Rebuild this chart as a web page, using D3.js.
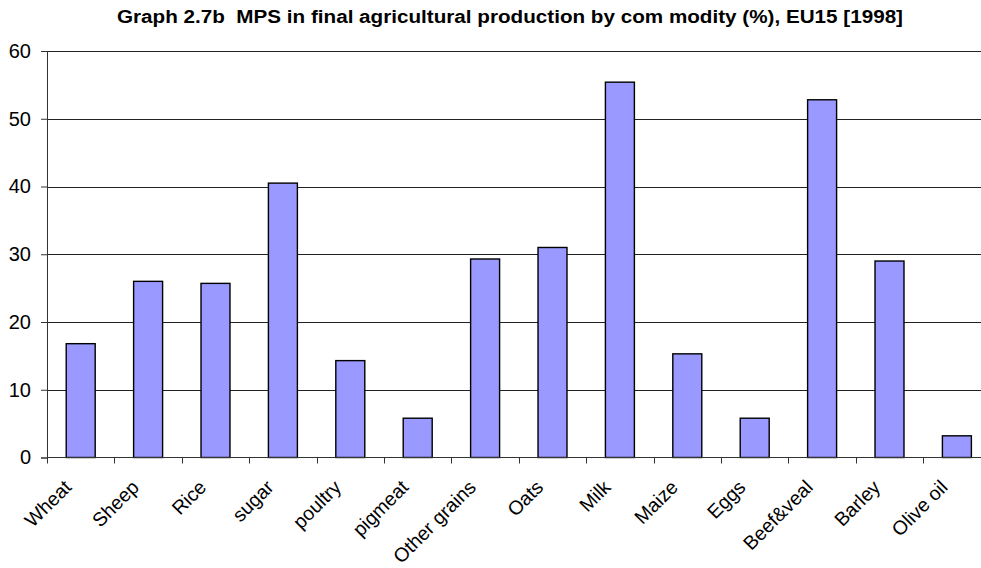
<!DOCTYPE html>
<html>
<head>
<meta charset="utf-8">
<script src="https://cdn.jsdelivr.net/npm/d3@7"></script>
<style>
  html, body { margin: 0; padding: 0; background: #fff; }
  svg { display: block; font-family: Arial, "Liberation Sans", sans-serif; }
</style>
</head>
<body>
<svg id="chart" width="981" height="568"></svg>
<script>
// MPS share in final agricultural production, EU15, 1998 (%)
const commodities = ["Wheat", "Sheep", "Rice", "sugar", "poultry", "pigmeat", "Other grains",
  "Oats", "Milk", "Maize", "Eggs", "Beef&veal", "Barley", "Olive oil"];
const mpsShare = [16.8, 26.0, 25.7, 40.5, 14.3, 5.8, 29.3, 31.0, 55.4, 15.3, 5.8, 52.8, 29.0, 3.2];
const yTicks = [0, 10, 20, 30, 40, 50, 60];
const chartTitle = "Graph 2.7b  MPS in final agricultural production by com modity (%), EU15 [1998]";

const svg = d3.select("#chart");
const plot = { left: 47, right: 990.6, top: 51, bottom: 457.5 };

const x = d3.scaleBand()
  .domain(commodities)
  .range([plot.left, plot.right])
  .paddingInner(0.57)
  .paddingOuter(0.285);

const xTicksScale = d3.scaleBand().domain(commodities).range([plot.left, plot.right]);

const y = d3.scaleLinear().domain([0, 60]).range([plot.bottom, plot.top]);

// title
svg.append("text")
  .attr("x", 510)
  .attr("y", 23)
  .attr("text-anchor", "middle")
  .attr("font-weight", "bold")
  .attr("font-size", 17.5)
  .attr("textLength", 786)
  .attr("lengthAdjust", "spacingAndGlyphs")
  .style("white-space", "pre")
  .attr("fill", "#000")
  .text(chartTitle);

// horizontal gridlines
svg.append("g")
  .selectAll("line")
  .data(yTicks.filter(d => d > 0))
  .join("line")
  .attr("x1", plot.left)
  .attr("x2", 981)
  .attr("y1", d => Math.round(y(d)) + 0.5)
  .attr("y2", d => Math.round(y(d)) + 0.5)
  .attr("stroke", "#222")
  .attr("stroke-width", 1);

// bars
svg.append("g")
  .selectAll("rect")
  .data(commodities.map((c, i) => ({ c, v: mpsShare[i] })))
  .join("rect")
  .attr("x", d => x(d.c))
  .attr("y", d => y(d.v))
  .attr("width", x.bandwidth())
  .attr("height", d => y(0) - y(d.v))
  .attr("fill", "#9999ff")
  .attr("stroke", "#000")
  .attr("stroke-width", 1.4);

// y axis
const yAxis = svg.append("g")
  .attr("transform", `translate(${plot.left},0)`)
  .call(d3.axisLeft(y).tickValues(yTicks).tickSize(6).tickPadding(10));
yAxis.select(".domain").attr("stroke", "#333");
yAxis.selectAll(".tick line").attr("stroke", "#333");
yAxis.selectAll(".tick text")
  .attr("font-size", 20)
  .attr("font-family", "Arial, 'Liberation Sans', sans-serif")
  .attr("fill", "#000");

// x axis baseline and tick marks at category boundaries
const xg = svg.append("g");
xg.append("line")
  .attr("x1", plot.left).attr("x2", 981)
  .attr("y1", y(0)).attr("y2", y(0))
  .attr("stroke", "#333").attr("stroke-width", 1.2);
xg.selectAll("line.tk")
  .data(commodities)
  .join("line")
  .attr("class", "tk")
  .attr("x1", d => Math.round(xTicksScale(d)) + 0.5)
  .attr("x2", d => Math.round(xTicksScale(d)) + 0.5)
  .attr("y1", y(0))
  .attr("y2", y(0) + 6)
  .attr("stroke", "#333");

// rotated category labels
xg.selectAll("text")
  .data(commodities)
  .join("text")
  .attr("transform", d => `translate(${x(d) + x.bandwidth() / 2 - 8},${y(0) + 31}) rotate(-45)`)
  .attr("text-anchor", "end")
  .attr("font-size", 19.5)
  .attr("fill", "#000")
  .text(d => d);
</script>
</body>
</html>
